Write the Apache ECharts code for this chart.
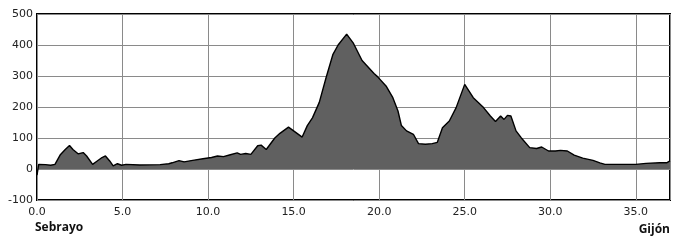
<!DOCTYPE html>
<html><head><meta charset="utf-8">
<script src="https://cdn.jsdelivr.net/npm/echarts@6/dist/echarts.min.js"></script>
<style>html,body{margin:0;padding:0;background:#fff}#c{width:700px;height:240px}</style>
</head><body><div id="c"></div>
<script>
const distanceKm = [0.0,0.1,0.2,0.5,0.8,1.05,1.35,1.65,1.9,2.1,2.4,2.7,2.9,3.25,3.5,3.8,4.0,4.25,4.45,4.7,4.95,5.2,6.0,7.2,7.7,7.9,8.3,8.6,9.1,9.7,10.2,10.55,10.9,11.3,11.7,11.9,12.2,12.5,12.9,13.1,13.4,13.9,14.2,14.7,15.0,15.5,15.8,16.1,16.5,16.9,17.3,17.6,18.1,18.5,19.0,19.7,19.9,20.0,20.4,20.8,21.1,21.3,21.6,22.0,22.3,22.7,23.1,23.4,23.7,24.1,24.5,25.0,25.5,26.1,26.5,26.8,27.1,27.3,27.5,27.7,28.0,28.3,28.8,29.2,29.5,29.9,30.3,30.6,31.0,31.4,31.9,32.5,32.9,33.2,34.0,35.0,35.6,36.4,36.8,36.9,37.0];
const elevationM = [-20,15,17,14,12,15,45,63,76,63,49,53,42,15,25,37,42,26,10,17,12,15,13,14,17,20,27,23,28,33,37,42,40,46,52,47,50,47,75,77,63,100,115,135,123,103,140,165,215,295,370,400,435,405,350,308,298,297,268,230,187,140,123,112,82,80,82,86,133,155,198,273,230,198,171,153,171,160,173,171,123,101,69,66,71,58,58,60,58,45,35,28,20,15,15,15,18,20,20,26,26];
const yTicks = [-100,0,100,200,300,400,500];
const startName = 'Sebrayo';
const endName = 'Gijón';

const chart = echarts.init(document.getElementById('c'));
chart.setOption({
  animation:false,
  grid:{left:37,right:30,top:14,bottom:40,show:true,borderColor:'#000',borderWidth:2,backgroundColor:'transparent'},
  xAxis:{type:'value',min:0,max:37,interval:5,
    axisLine:{show:false},axisTick:{show:false},
    splitLine:{show:true,lineStyle:{color:'#8a8a8a',width:1}},
    axisLabel:{color:'#222',fontFamily:'DejaVu Sans',fontSize:11,margin:7,
      formatter:v=> (Math.abs(v%5)<1e-9 ? v.toFixed(1) : '')}},
  yAxis:{type:'value',min:yTicks[0],max:yTicks[yTicks.length-1],interval:100,
    axisLine:{show:false},axisTick:{show:false},
    splitLine:{show:true,lineStyle:{color:'#8a8a8a',width:1}},
    axisLabel:{color:'#222',fontFamily:'DejaVu Sans',fontSize:11,margin:4}},
  series:[{type:'line',data:distanceKm.map((d,i)=>[d,elevationM[i]]),
    showSymbol:false,symbol:'none',smooth:false,
    lineStyle:{color:'#000',width:1.4},
    areaStyle:{color:'#606060',opacity:1}}],
  graphic:[
    {type:'text',left:35,top:222,style:{text:startName,font:'bold 12px "Open Sans"',fill:'#111'}},
    {type:'text',right:30,top:224,style:{text:endName,font:'bold 12px "Open Sans"',fill:'#111'}}
  ]
});
</script></body></html>
